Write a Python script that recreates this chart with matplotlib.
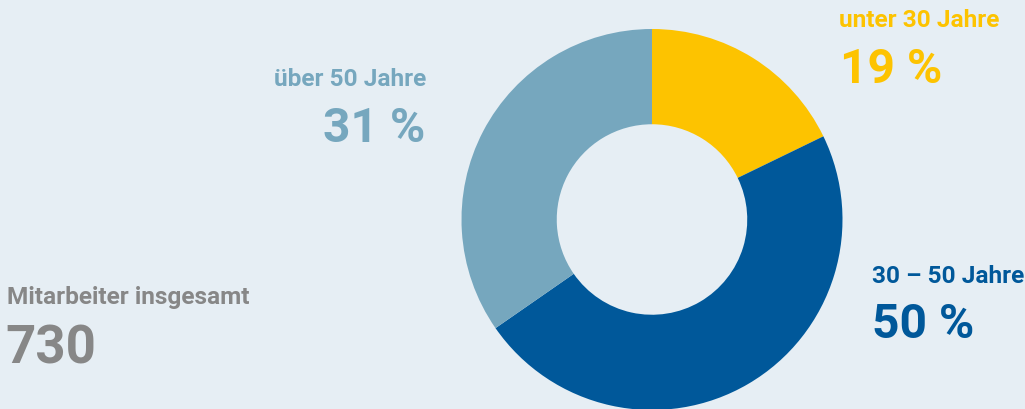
import matplotlib
matplotlib.use("Agg")
import matplotlib.pyplot as plt

# Data
categories = ["unter 30 Jahre", "30 – 50 Jahre", "über 50 Jahre"]
counts = [130, 347, 253]          # wedge sizes as drawn
pct_labels = ["19 %", "50 %", "31 %"]
total_label = "Mitarbeiter insgesamt"
total_value = "730"

colors = ["#FDC300", "#00589A", "#76A7BE"]
bg = "#E6EEF4"
grey = "#878787"

W, H = 1025, 409
fig = plt.figure(figsize=(W / 100, H / 100), dpi=100)
fig.patch.set_facecolor(bg)
ax = fig.add_axes([0, 0, 1, 1])
ax.set_facecolor(bg)

cx, cy, R = 652, H - 219.5, 190.5
ax.pie(counts, colors=colors, startangle=90, counterclock=False,
       center=(cx, cy), radius=R, frame=True,
       wedgeprops=dict(width=R * 0.5, linewidth=0))
ax.set_xlim(0, W)
ax.set_ylim(0, H)
ax.set_aspect("equal")
ax.axis("off")

font = "Roboto"
small = 17.6
big = 34.5

def txt(x, y, s, size, color, ha="left"):
    ax.text(x, H - y, s, fontsize=size, color=color, ha=ha, va="baseline",
            fontfamily=font, fontweight="bold")

# unter 30
txt(839, 26.7, categories[0], small, colors[0])
txt(840, 83.3, pct_labels[0], big, colors[0])
# 30-50
txt(872, 283.3, categories[1], small, colors[1])
txt(872, 338.3, pct_labels[1], big, colors[1])
# über 50
txt(426, 86, categories[2], small, colors[2], ha="right")
txt(425, 141.7, pct_labels[2], big, colors[2], ha="right")
# total
txt(7, 304, total_label, small, grey)
txt(5, 363, total_value, 38, grey)

fig.savefig("out.png", dpi=100, facecolor=bg)
